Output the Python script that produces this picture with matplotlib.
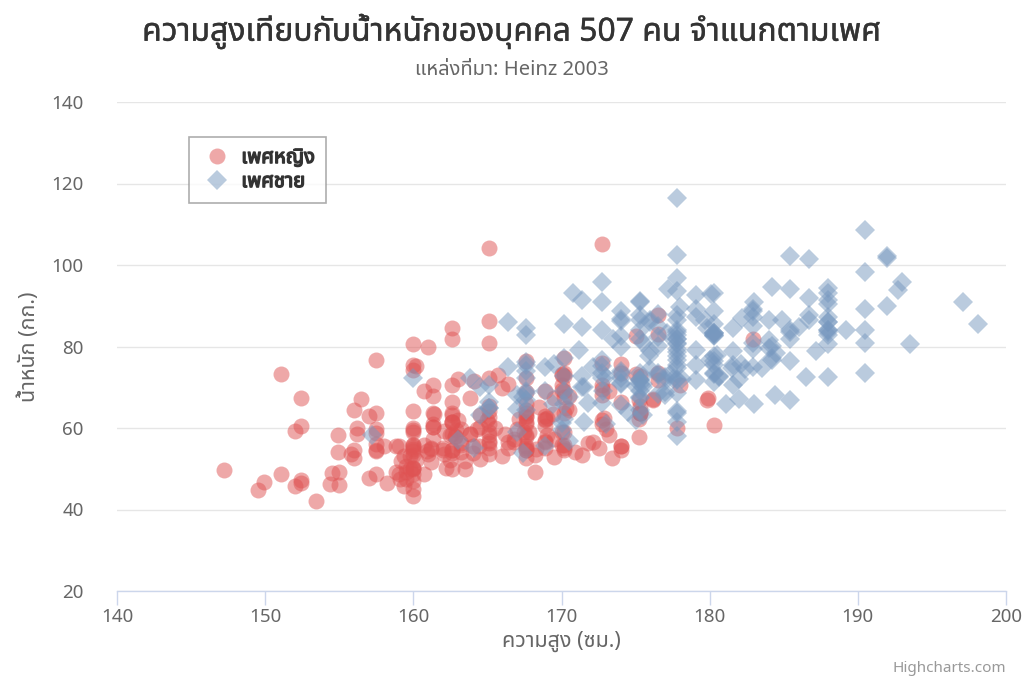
import matplotlib
matplotlib.use("Agg")
import matplotlib.pyplot as plt
import matplotlib.patheffects as pe
from matplotlib.lines import Line2D

THAI = ['Noto Sans Thai', 'DejaVu Sans']
plt.rcParams['font.family'] = ['Noto Sans', 'DejaVu Sans']

title = "ความสูงเทียบกับน้ำหนักของบุคคล 507 คน จำแนกตามเพศ"
subtitle = "แหล่งที่มา: Heinz 2003"
x_label = "ความสูง (ซม.)"
y_label = "น้ำหนัก (กก.)"
credit = "Highcharts.com"
series_names = ["เพศหญิง", "เพศชาย"]
x_ticks = [140, 150, 160, 170, 180, 190, 200]
y_ticks = [20, 40, 60, 80, 100, 120, 140]

female = [
[161.2, 51.6], [167.5, 59.0], [159.5, 49.2], [157.0, 63.0], [155.8, 53.6], [170.0, 59.0], [159.1, 47.6], [166.0, 69.8], [176.2, 66.8], [160.2, 75.2],
[172.5, 55.2], [170.9, 54.2], [172.9, 62.5], [153.4, 42.0], [160.0, 50.0], [147.2, 49.8], [168.2, 49.2], [175.0, 73.2], [157.0, 47.8], [167.6, 68.8],
[159.5, 50.6], [175.0, 82.5], [166.8, 57.2], [176.5, 87.8], [170.2, 72.8], [174.0, 54.5], [173.0, 59.8], [179.9, 67.3], [170.5, 67.8], [160.0, 47.0],
[154.4, 46.2], [162.0, 55.0], [176.5, 83.0], [160.0, 54.4], [152.0, 45.8], [162.1, 53.6], [170.0, 73.2], [160.2, 52.1], [161.3, 67.9], [166.4, 56.6],
[168.9, 62.3], [163.8, 58.5], [167.6, 54.5], [160.0, 50.2], [161.3, 60.3], [167.6, 58.3], [165.1, 56.2], [160.0, 50.2], [170.0, 72.9], [157.5, 59.8],
[167.6, 61.0], [160.7, 69.1], [163.2, 55.9], [152.4, 46.5], [157.5, 54.3], [168.3, 54.8], [180.3, 60.7], [165.5, 60.0], [165.0, 62.0], [164.5, 60.3],
[156.0, 52.7], [160.0, 74.3], [163.0, 62.0], [165.7, 73.1], [161.0, 80.0], [162.0, 54.7], [166.0, 53.2], [174.0, 75.7], [172.7, 61.1], [167.6, 55.7],
[151.1, 48.7], [164.5, 52.3], [163.5, 50.0], [152.0, 59.3], [169.0, 62.5], [164.0, 55.7], [161.2, 54.8], [155.0, 45.9], [170.0, 70.6], [176.2, 67.2],
[170.0, 69.4], [162.5, 58.2], [170.3, 64.8], [164.1, 71.6], [169.5, 52.8], [163.2, 59.8], [154.5, 49.0], [159.8, 50.0], [173.2, 69.2], [170.0, 55.9],
[161.4, 63.4], [169.0, 58.2], [166.2, 58.6], [159.4, 45.7], [162.5, 52.2], [159.0, 48.6], [162.8, 57.8], [159.0, 55.6], [179.8, 66.8], [162.9, 59.4],
[161.0, 53.6], [151.1, 73.2], [168.2, 53.4], [168.9, 69.0], [173.2, 58.4], [171.8, 56.2], [178.0, 70.6], [164.3, 59.8], [163.0, 72.0], [168.5, 65.2],
[166.8, 56.6], [172.7, 105.2], [163.5, 51.8], [169.4, 63.4], [167.8, 59.0], [159.5, 47.6], [167.6, 63.0], [161.2, 55.2], [160.0, 45.0], [163.2, 54.0],
[162.2, 50.2], [161.3, 60.2], [149.5, 44.8], [157.5, 58.8], [163.2, 56.4], [172.7, 62.0], [155.0, 49.2], [156.5, 67.2], [164.0, 53.8], [160.9, 54.4],
[162.8, 58.0], [167.0, 59.8], [160.0, 54.8], [160.0, 43.2], [168.9, 60.5], [158.2, 46.4], [156.0, 64.4], [160.0, 48.8], [167.1, 62.2], [158.0, 55.5],
[167.6, 57.8], [156.0, 54.6], [162.1, 59.2], [173.4, 52.7], [159.8, 53.2], [170.5, 64.5], [159.2, 51.8], [157.5, 56.0], [161.3, 63.6], [162.6, 63.2],
[160.0, 59.5], [168.9, 56.8], [165.1, 64.1], [162.6, 50.0], [165.1, 72.3], [166.4, 55.0], [160.0, 55.9], [152.4, 60.4], [170.2, 69.1], [162.6, 84.5],
[170.2, 55.9], [158.8, 55.5], [172.7, 69.5], [167.6, 76.4], [162.6, 61.4], [167.6, 65.9], [156.2, 58.6], [175.2, 66.8], [172.1, 56.6], [162.6, 58.6],
[160.0, 55.9], [165.1, 59.1], [182.9, 81.8], [166.4, 70.7], [165.1, 56.8], [177.8, 60.0], [165.1, 58.2], [175.3, 72.7], [154.9, 54.1], [158.8, 49.1],
[172.7, 75.9], [168.9, 55.0], [161.3, 57.3], [167.6, 55.0], [165.1, 65.5], [175.3, 65.5], [157.5, 48.6], [163.8, 58.6], [167.6, 63.6], [165.1, 55.2],
[165.1, 62.7], [168.9, 56.6], [162.6, 53.9], [164.5, 63.2], [176.5, 73.6], [168.9, 62.0], [175.3, 63.6], [159.4, 53.2], [160.0, 53.4], [170.2, 55.0],
[162.6, 70.5], [167.6, 54.5], [162.6, 54.5], [160.7, 55.9], [160.0, 59.0], [157.5, 63.6], [162.6, 54.5], [152.4, 47.3], [170.2, 67.7], [165.1, 80.9],
[172.7, 70.5], [165.1, 60.9], [170.2, 63.6], [170.2, 54.5], [170.2, 59.1], [161.3, 70.5], [167.6, 52.7], [167.6, 62.7], [165.1, 86.3], [162.6, 66.4],
[152.4, 67.3], [168.9, 63.0], [170.2, 73.6], [175.2, 62.3], [175.2, 57.7], [160.0, 55.4], [165.1, 104.1], [174.0, 55.5], [170.2, 77.3], [160.0, 80.5],
[167.6, 64.5], [167.6, 72.3], [167.6, 61.4], [154.9, 58.2], [162.6, 81.8], [175.3, 63.6], [171.4, 53.4], [157.5, 54.5], [165.1, 53.6], [160.0, 60.0],
[174.0, 73.6], [162.6, 61.4], [174.0, 55.5], [162.6, 63.6], [161.3, 60.9], [156.2, 60.0], [149.9, 46.8], [169.5, 57.3], [160.0, 64.1], [175.3, 63.6],
[169.5, 67.3], [160.0, 75.5], [172.7, 68.2], [162.6, 61.4], [157.5, 76.8], [176.5, 71.8], [164.4, 55.5], [160.7, 48.6], [174.0, 66.4], [163.8, 67.3],
]

male = [
[174.0, 65.6], [175.3, 71.8], [193.5, 80.7], [186.5, 72.6], [187.2, 78.8], [181.5, 74.8], [184.0, 86.4], [184.5, 78.4], [175.0, 62.0], [184.0, 81.6],
[180.0, 76.6], [177.8, 83.6], [192.0, 90.0], [176.0, 74.6], [174.0, 71.0], [184.0, 79.6], [192.7, 93.8], [171.5, 70.0], [173.0, 72.4], [176.0, 85.9],
[176.0, 78.8], [180.5, 77.8], [172.7, 66.2], [176.0, 86.4], [173.5, 81.8], [178.0, 89.6], [180.3, 82.8], [180.3, 76.4], [164.5, 63.2], [173.0, 60.9],
[183.5, 74.8], [175.5, 70.0], [188.0, 72.4], [189.2, 84.1], [172.8, 69.1], [170.0, 59.5], [182.0, 67.2], [170.0, 61.3], [177.8, 68.6], [184.2, 80.1],
[186.7, 87.8], [171.4, 84.7], [172.7, 73.4], [175.3, 72.1], [180.3, 82.6], [182.9, 88.7], [188.0, 84.1], [177.2, 94.1], [172.1, 74.9], [167.0, 59.1],
[169.5, 75.6], [174.0, 86.2], [172.7, 75.3], [182.2, 87.1], [164.1, 55.2], [163.0, 57.0], [171.5, 61.4], [184.2, 76.8], [174.0, 86.8], [174.0, 72.2],
[177.0, 71.6], [186.0, 84.8], [167.0, 68.2], [171.8, 66.1], [182.0, 72.0], [167.0, 64.6], [177.8, 74.8], [164.5, 70.0], [192.0, 101.6], [175.5, 63.2],
[171.2, 79.1], [181.6, 78.9], [167.4, 67.7], [181.1, 66.0], [177.0, 68.2], [174.5, 63.9], [177.5, 72.0], [170.5, 56.8], [182.4, 74.5], [197.1, 90.9],
[180.1, 93.0], [175.5, 80.9], [180.6, 72.7], [184.4, 68.0], [175.5, 70.9], [180.6, 72.5], [177.0, 72.5], [177.1, 83.4], [181.6, 75.5], [176.5, 73.0],
[175.0, 70.2], [174.0, 73.4], [165.1, 70.5], [177.0, 68.9], [192.0, 102.3], [176.5, 68.4], [169.4, 65.9], [182.1, 75.7], [179.8, 84.5], [175.3, 87.7],
[184.9, 86.4], [177.3, 73.2], [167.4, 53.9], [178.1, 72.0], [168.9, 55.5], [157.2, 58.4], [180.3, 83.2], [170.2, 72.7], [177.8, 64.1], [172.7, 72.3],
[165.1, 65.0], [186.7, 86.4], [165.1, 65.0], [174.0, 88.6], [175.3, 84.1], [185.4, 66.8], [177.8, 75.5], [180.3, 93.2], [180.3, 82.7], [177.8, 58.0],
[177.8, 79.5], [177.8, 78.6], [177.8, 71.8], [177.8, 116.4], [163.8, 72.2], [188.0, 83.6], [198.1, 85.5], [175.3, 90.9], [166.4, 85.9], [190.5, 89.1],
[166.4, 75.0], [177.8, 77.7], [179.7, 86.4], [172.7, 90.9], [190.5, 73.6], [185.4, 76.4], [168.9, 69.1], [167.6, 84.5], [175.3, 64.5], [170.2, 69.1],
[190.5, 108.6], [177.8, 86.4], [190.5, 80.9], [177.8, 87.7], [184.2, 94.5], [176.5, 80.2], [177.8, 72.0], [180.3, 71.4], [171.4, 72.7], [172.7, 84.1],
[172.7, 76.8], [177.8, 63.6], [177.8, 80.9], [182.9, 80.9], [170.2, 85.5], [167.6, 68.6], [175.3, 67.7], [165.1, 66.4], [185.4, 102.3], [181.6, 70.5],
[172.7, 95.9], [190.5, 84.1], [179.1, 87.3], [175.3, 71.8], [170.2, 65.9], [193.0, 95.9], [171.4, 91.4], [177.8, 81.8], [177.8, 96.8], [167.6, 69.1],
[167.6, 82.7], [180.3, 75.5], [182.9, 79.5], [176.5, 73.6], [186.7, 91.8], [188.0, 84.1], [188.0, 85.9], [177.8, 81.8], [174.0, 82.5], [177.8, 80.5],
[171.4, 70.0], [185.4, 81.8], [185.4, 84.1], [188.0, 90.5], [188.0, 91.4], [182.9, 89.1], [176.5, 85.0], [175.3, 69.1], [175.3, 73.6], [188.0, 80.5],
[188.0, 82.7], [175.3, 86.4], [170.5, 67.7], [179.1, 92.7], [177.8, 93.6], [175.3, 70.9], [182.9, 75.0], [170.8, 93.2], [188.0, 93.2], [180.3, 77.7],
[177.8, 61.4], [185.4, 94.1], [168.9, 75.0], [185.4, 83.6], [180.3, 85.5], [174.0, 73.9], [167.6, 66.8], [182.9, 87.3], [160.0, 72.3], [180.3, 88.6],
[167.6, 75.5], [186.7, 101.4], [175.3, 91.1], [175.3, 67.3], [175.9, 77.7], [175.3, 81.8], [179.1, 75.5], [181.6, 84.5], [177.8, 76.6], [182.9, 85.0],
[177.8, 102.5], [184.2, 77.3], [179.1, 71.8], [176.5, 87.9], [188.0, 94.3], [174.0, 70.9], [167.6, 64.5], [170.2, 77.3], [167.6, 72.3], [188.0, 87.3],
[174.0, 80.0], [176.5, 82.3], [180.3, 73.6], [167.6, 74.1], [188.0, 85.9], [180.3, 73.2], [167.6, 76.3], [183.0, 65.9], [183.0, 90.9], [179.1, 89.1],
[170.2, 62.3], [177.8, 82.7], [179.1, 79.1], [190.5, 98.2], [177.8, 84.1], [180.3, 83.2], [180.3, 83.2],
]

red = (223/255, 83/255, 83/255)
blue = (119/255, 152/255, 191/255)

fig = plt.figure(figsize=(10.24, 6.83), dpi=100)
ax = fig.add_axes([117/1024, 1 - 591/683, (1006 - 117)/1024, (591 - 102)/683])

ax.plot([p[0] for p in female], [p[1] for p in female], linestyle='none', marker='o',
        markersize=11.5, markerfacecolor=red, markeredgewidth=0, alpha=0.5, zorder=3)
ax.plot([p[0] for p in male], [p[1] for p in male], linestyle='none', marker='D',
        markersize=10, markerfacecolor=blue, markeredgewidth=0, alpha=0.5, zorder=3)

ax.set_xlim(140, 200)
ax.set_ylim(20, 140)
ax.set_xticks(x_ticks)
ax.set_yticks(y_ticks)
ax.grid(axis='y', color='#e6e6e6', linewidth=1)
ax.set_axisbelow(True)
for s in ['top', 'right', 'left']:
    ax.spines[s].set_visible(False)
ax.spines['bottom'].set_color('#ccd6eb')
ax.spines['bottom'].set_linewidth(1)
ax.tick_params(axis='x', colors='#ccd6eb', length=10, width=1, labelcolor='#666666', labelsize=13.5, pad=2)
ax.tick_params(axis='y', length=0, labelcolor='#666666', labelsize=13.5, pad=24)

ax.set_xlabel(x_label, fontsize=15.5, color='#666666', labelpad=4, family=THAI)
ax.set_ylabel(y_label, fontsize=15.5, color='#666666', labelpad=8, family=THAI)

fig.text(512/1024, 1 - 32/683, title, ha='center', va='center', fontsize=23, color='#333333', family=THAI,
         path_effects=[pe.withStroke(linewidth=0.3, foreground='#333333')])
fig.text(512/1024, 1 - 70/683, subtitle, ha='center', va='center', fontsize=14.5, color='#666666', family=THAI)
fig.text(1006/1024, 1 - 668/683, credit, ha='right', va='center', fontsize=11, color='#999999')

handles = [
    Line2D([], [], linestyle='none', marker='o', markersize=11.5, markerfacecolor=red, markeredgewidth=0, alpha=0.5),
    Line2D([], [], linestyle='none', marker='D', markersize=10, markerfacecolor=blue, markeredgewidth=0, alpha=0.5),
]
leg = ax.legend(handles, series_names, loc='upper left', bbox_to_anchor=((189 - 117)/889, 1 - (137 - 102)/489),
                frameon=True, fancybox=False, prop={'family': THAI, 'size': 14.5},
                handletextpad=0.35, borderpad=0.55, labelspacing=0.2, handlelength=1.7, borderaxespad=0)
leg.get_frame().set_edgecolor('#999999')
leg.get_frame().set_linewidth(1.2)
for t in leg.get_texts():
    t.set_color('#333333')
    t.set_path_effects([pe.withStroke(linewidth=1.0, foreground='#333333')])

fig.savefig('out.png', dpi=100)
